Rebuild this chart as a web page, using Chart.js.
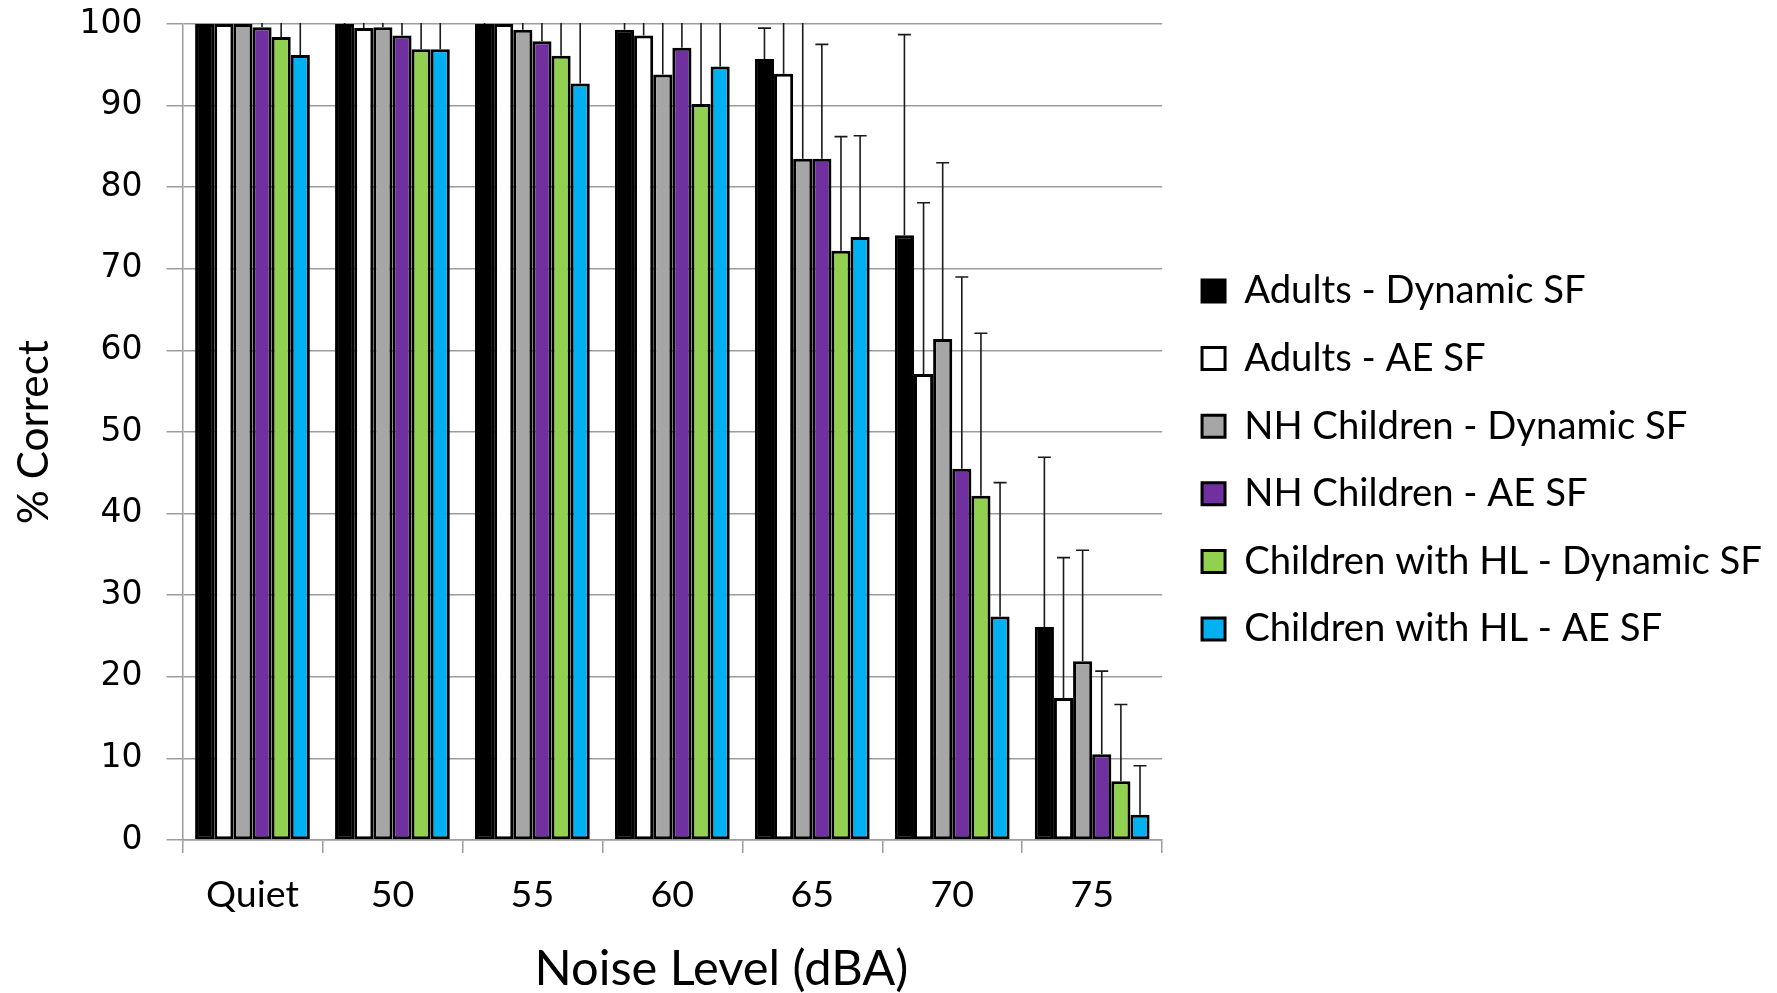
<!DOCTYPE html>
<html>
<head>
<meta charset="utf-8">
<script src="https://cdn.jsdelivr.net/npm/chart.js@4.4.1/dist/chart.umd.min.js"></script>
<style>
html,body{margin:0;padding:0;background:#fff;}
#wrap{width:1777px;height:993px;}
</style>
</head>
<body>
<div id="wrap"><canvas id="c" width="1777" height="993"></canvas></div>
<script>
// ---- data ----
const categories = ['Quiet', '50', '55', '60', '65', '70', '75'];
const seriesNames = ['Adults - Dynamic SF', 'Adults - AE SF', 'NH Children - Dynamic SF',
  'NH Children - AE SF', 'Children with HL - Dynamic SF', 'Children with HL - AE SF'];

const adultsDynamic = [100, 100, 100, 99.3, 95.7, 74.1, 26.1];
const adultsAE      = [100, 99.5, 100, 98.6, 93.9, 57.1, 17.4];
const nhDynamic     = [100, 99.6, 99.3, 93.8, 83.5, 61.4, 21.9];
const nhAE          = [99.6, 98.6, 97.9, 97.1, 83.5, 45.5, 10.5];
const hlDynamic     = [98.4, 96.9, 96.1, 90.2, 72.2, 42.2, 7.2];
const hlAE          = [96.2, 96.9, 92.7, 94.8, 73.9, 27.4, 3.1];

// upper error bar lengths (clipped at 100 where they exceed the axis)
const adultsDynamicErr = [0, 1, 1, 2, 3.8, 24.6, 20.8];
const adultsAEErr      = [0, 2, 0, 5, 8, 21.0, 17.2];
const nhDynamicErr     = [0, 1, 2, 8, 18, 21.6, 13.6];
const nhAEErr          = [1, 3, 4, 5, 14.0, 23.5, 10.2];
const hlDynamicErr     = [4, 6, 6, 12, 14.0, 19.9, 9.4];
const hlAEErr          = [6, 6, 9, 8, 12.4, 16.4, 6.0];

const yTicks = [0, 10, 20, 30, 40, 50, 60, 70, 80, 90, 100];
const xTitleText = 'Noise Level (dBA)';
const yTitleText = '% Correct';

// ---- styling ----
const colors = ['#000000', '#ffffff', '#a6a6a6', '#7030a0', '#92d050', '#00b0f0'];
const values = [adultsDynamic, adultsAE, nhDynamic, nhAE, hlDynamic, hlAE];
const errors = [adultsDynamicErr, adultsAEErr, nhDynamicErr, nhAEErr, hlDynamicErr, hlAEErr];

const W = 1777, H = 993;
const AREA_TOP = 24, AREA_BOTTOM = 840, AREA_LEFT = 182.5, AREA_RIGHT = 1162;
const GRID = '#9c9c9c';
const SANS = 'Lato';
const NUM = '"DejaVu Sans"';

const mctx = document.createElement('canvas').getContext('2d');
function fitFont(text, family, target) {
  mctx.font = '100px ' + family;
  return 100 * target / mctx.measureText(text).width;
}
const legendSize = fitFont('Children with HL - Dynamic SF', SANS, 518);
const xTitleSize = fitFont(xTitleText, SANS, 374);
const yTitleSize = fitFont(yTitleText, SANS, 184);
const xTickSize  = fitFont('Quiet', SANS, 93);
const yTickSize  = fitFont('100', NUM, 63);
mctx.font = yTickSize + 'px ' + NUM;
const yLabelW = mctx.measureText('100').width;

// x title sits right of the plot centre in the original: pad it with leading spaces
const xTitleCenter = 720;
const leadW = 2 * (xTitleCenter - (AREA_LEFT + AREA_RIGHT) / 2);
mctx.font = xTitleSize + 'px ' + SANS;
const enW = mctx.measureText('\u2002').width;
const spW = mctx.measureText(' ').width;
const nEn = Math.floor(leadW / enW);
const nSp = Math.round((leadW - nEn * enW) / spW);
const xTitleLabel = '\u2002'.repeat(nEn) + ' '.repeat(nSp) + xTitleText;

// y axis geometry (Chart.js counts tick padding twice in the axis width
// and adds it to the top padding)
const yTickLen = 16, yTickPad = 24;
const yTitleLH = yTitleSize * 0.8;
const yTitlePT = 34 - yTitleLH / 2;
const yTitlePB = AREA_LEFT - yTickLen - 2 * yTickPad - yLabelW - yTitleLH - yTitlePT;

// x axis geometry
const xTickLen = 13;
const xTickLH = xTickSize * 1.0;
const xTickPad = (895 - AREA_BOTTOM - xTickLen) - xTickLH / 2;
const xTitleLH = xTitleSize * 0.9;
const xTitlePB = H - 969 - xTitleLH / 2;
const xTitlePT = H - AREA_BOTTOM - xTickLen - 2 * xTickPad - xTickLH - xTitleLH - xTitlePB;

// legend geometry
const rowStep = 67.6;
const legendPad = rowStep - legendSize;
const boxW = 23, boxH = 22;
const boxX = 1244 - legendSize / 2 - boxW;
const legendLeft = boxX - legendPad;
const legendRightEdge = 1244 + 518 + 10;
const padRight = Math.max(0, W - legendRightEdge);
const extraRight = Math.max(0, legendLeft - AREA_RIGHT);
const legendTitleH = 291 - legendSize / 2 - legendPad - AREA_TOP;

const datasets = seriesNames.map((name, i) => ({
  label: name,
  data: values[i],
  errorPlus: errors[i],
  backgroundColor: colors[i],
  borderColor: '#000000',
  borderWidth: 3,
  borderSkipped: false,
  categoryPercentage: 0.82,
  barPercentage: 1.0
}));

const errorBars = {
  id: 'errorBars',
  afterDatasetsDraw(chart) {
    const ctx = chart.ctx, ys = chart.scales.y, a = chart.chartArea;
    ctx.save();
    ctx.beginPath();
    ctx.rect(a.left, a.top - 1, a.right - a.left, a.bottom - a.top + 1);
    ctx.clip();
    ctx.strokeStyle = '#1a1a1a';
    ctx.lineWidth = 1.6;
    chart.data.datasets.forEach((ds, i) => {
      const meta = chart.getDatasetMeta(i);
      meta.data.forEach((bar, j) => {
        const e = ds.errorPlus[j];
        if (!e) return;
        const y0 = ys.getPixelForValue(ds.data[j]);
        const y1 = ys.getPixelForValue(ds.data[j] + e);
        ctx.beginPath();
        ctx.moveTo(bar.x, y0);
        ctx.lineTo(bar.x, y1);
        ctx.moveTo(bar.x - 6.5, y1);
        ctx.lineTo(bar.x + 6.5, y1);
        ctx.stroke();
      });
    });
    ctx.restore();
  }
};

new Chart(document.getElementById('c'), {
  type: 'bar',
  data: { labels: categories, datasets },
  plugins: [errorBars],
  options: {
    responsive: false,
    animation: false,
    devicePixelRatio: 1,
    layout: { padding: { top: AREA_TOP, left: 0, right: padRight, bottom: 0 } },
    plugins: {
      tooltip: { enabled: false },
      legend: {
        position: 'right',
        align: 'start',
        maxWidth: 800,
        title: { display: true, text: ' ', font: { size: 1, lineHeight: 1 }, padding: { top: legendTitleH - 1, bottom: 0 } },
        labels: {
          boxWidth: boxW,
          boxHeight: boxH,
          padding: legendPad,
          color: '#000',
          font: { family: SANS, size: legendSize }
        }
      }
    },
    scales: {
      x: {
        offset: true,
        grid: { display: true, drawOnChartArea: false, drawTicks: true, tickLength: xTickLen, color: GRID, lineWidth: 1.5, offset: true },
        border: { display: true, color: GRID, width: 1.5 },
        ticks: { color: '#000', padding: xTickPad, font: { family: SANS, size: xTickSize, lineHeight: 1.0 }, maxRotation: 0 },
        title: { display: true, text: xTitleLabel, color: '#000',
          font: { family: SANS, size: xTitleSize, lineHeight: 0.9 }, padding: { top: xTitlePT, bottom: xTitlePB } }
      },
      y: {
        min: 0, max: 100,
        afterBuildTicks(s) { s.ticks = yTicks.map(v => ({ value: v })); },
        grid: { color: GRID, lineWidth: 1.5, tickLength: yTickLen, drawTicks: true },
        border: { display: true, color: GRID, width: 1.5 },
        ticks: { color: '#000', padding: yTickPad, font: { family: NUM, size: yTickSize, lineHeight: 0 } },
        title: { display: true, text: yTitleText, color: '#000',
          font: { family: SANS, size: yTitleSize, lineHeight: 0.8 }, padding: { top: yTitlePT, bottom: yTitlePB } }
      },
      yR: {
        position: 'right',
        display: true,
        grid: { display: false, drawTicks: false },
        border: { display: false },
        ticks: { display: false },
        afterFit(s) { s.width = extraRight; }
      }
    }
  }
});
</script>
</body>
</html>
